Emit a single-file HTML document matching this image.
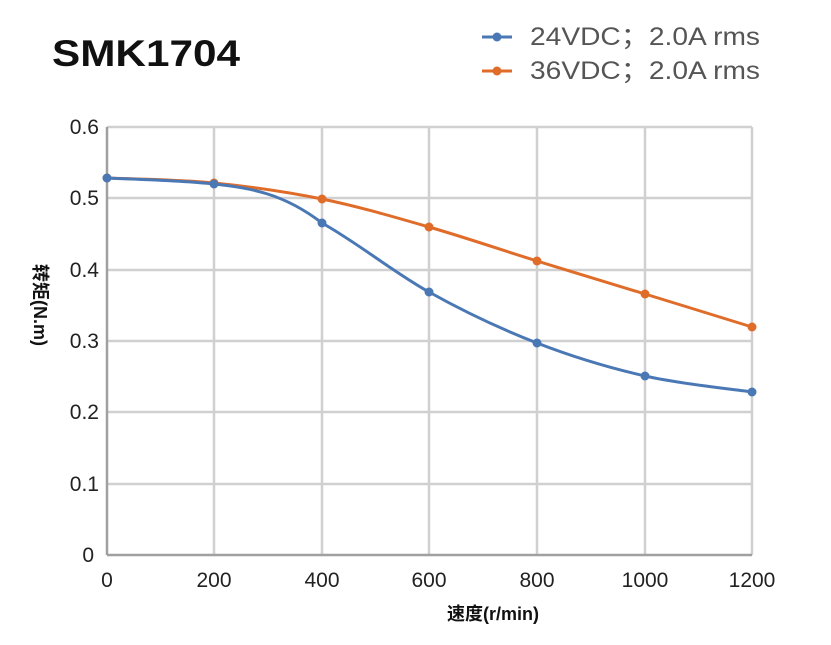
<!DOCTYPE html>
<html><head><meta charset="utf-8"><style>body{margin:0;background:#fff}</style></head><body>
<svg width="831" height="640" xmlns="http://www.w3.org/2000/svg" font-family="Liberation Sans, Noto Sans CJK SC, sans-serif">
<rect width="831" height="640" fill="#fff"/>
<g stroke="#d0d0d0" stroke-width="2.5">
<line x1="107" y1="127" x2="752" y2="127"/><line x1="107" y1="198" x2="752" y2="198"/><line x1="107" y1="270" x2="752" y2="270"/><line x1="107" y1="341" x2="752" y2="341"/><line x1="107" y1="412" x2="752" y2="412"/><line x1="107" y1="484" x2="752" y2="484"/>
<line x1="214" y1="127" x2="214" y2="555"/><line x1="322" y1="127" x2="322" y2="555"/><line x1="429" y1="127" x2="429" y2="555"/><line x1="537" y1="127" x2="537" y2="555"/><line x1="645" y1="127" x2="645" y2="555"/><line x1="752" y1="127" x2="752" y2="555"/>
</g>
<g stroke="#a0a0a0" stroke-width="2.5"><line x1="107" y1="127" x2="107" y2="555"/><line x1="107" y1="555" x2="752" y2="555"/></g>
<g font-size="21" fill="#222" text-anchor="end">
<text x="99" y="134">0.6</text><text x="99" y="205">0.5</text><text x="99" y="277">0.4</text><text x="99" y="348">0.3</text><text x="99" y="419">0.2</text><text x="99" y="491">0.1</text><text x="94" y="562">0</text>
</g>
<g font-size="21" fill="#222" text-anchor="middle">
<text x="107" y="587">0</text><text x="214" y="587">200</text><text x="322" y="587">400</text><text x="429" y="587">600</text><text x="537" y="587">800</text><text x="645" y="587">1000</text><text x="752" y="587">1200</text>
</g>
<text x="493" y="620" font-size="18" font-weight="bold" text-anchor="middle" fill="#111">速度(r/min)</text>
<text transform="translate(34,305) rotate(90)" font-size="18" font-weight="bold" text-anchor="middle" fill="#111">转矩(N.m)</text>
<text x="52" y="66" font-size="37" font-weight="bold" fill="#111" textLength="188" lengthAdjust="spacingAndGlyphs">SMK1704</text>
<path d="M107,178 C124.8,178.8 178.2,179.5 214,183 C249.8,186.5 286.2,191.7 322,199 C357.8,206.3 393.2,216.7 429,227 C464.8,237.3 501,249.8 537,261 C573,272.2 609.2,283 645,294 C681,305 734.2,321.5 752,327" fill="none" stroke="#e06c2a" stroke-width="3"/>
<path d="M107,178 C124.8,179 178.2,180 214,184 C249.8,188 283,193 322,223 C357.8,243 393.2,272 429,292 C464.8,312 501,329 537,343 C573,357 609.2,367.8 645,376 C681,384.2 734.2,389.3 752,392" fill="none" stroke="#4a78b5" stroke-width="3"/>
<g fill="#e06c2a"><circle cx="107" cy="178" r="4.5"/><circle cx="214" cy="183" r="4.5"/><circle cx="322" cy="199" r="4.5"/><circle cx="429" cy="227" r="4.5"/><circle cx="537" cy="261" r="4.5"/><circle cx="645" cy="294" r="4.5"/><circle cx="752" cy="327" r="4.5"/></g>
<g fill="#4a78b5"><circle cx="107" cy="178" r="4.5"/><circle cx="214" cy="184" r="4.5"/><circle cx="322" cy="223" r="4.5"/><circle cx="429" cy="292" r="4.5"/><circle cx="537" cy="343" r="4.5"/><circle cx="645" cy="376" r="4.5"/><circle cx="752" cy="392" r="4.5"/></g>
<line x1="482" y1="37" x2="512" y2="37" stroke="#4a78b5" stroke-width="3"/><circle cx="497" cy="37" r="4.5" fill="#4a78b5"/>
<line x1="482" y1="71" x2="512" y2="71" stroke="#e06c2a" stroke-width="3"/><circle cx="497" cy="71" r="4.5" fill="#e06c2a"/>
<text x="530" y="45" font-size="25" fill="#555" textLength="230" lengthAdjust="spacingAndGlyphs">24VDC；2.0A rms</text>
<text x="530" y="79" font-size="25" fill="#555" textLength="230" lengthAdjust="spacingAndGlyphs">36VDC；2.0A rms</text>
</svg>
</body></html>
